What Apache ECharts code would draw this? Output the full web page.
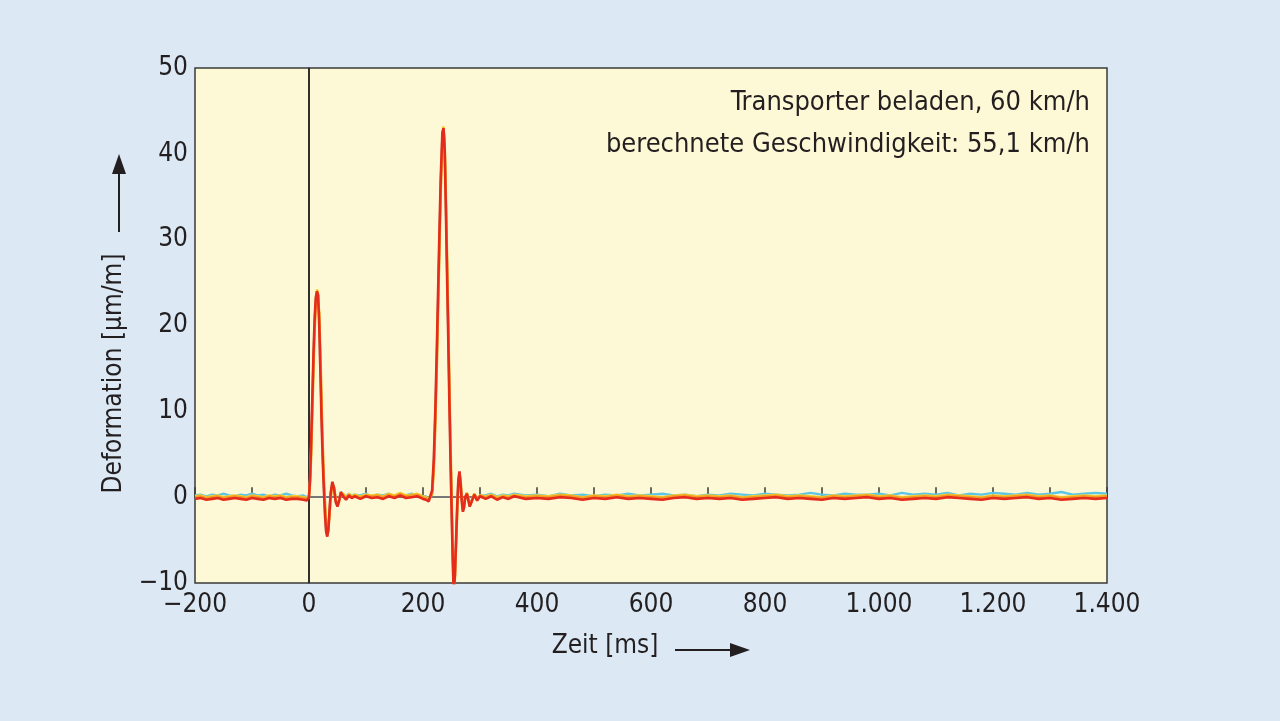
<!DOCTYPE html>
<html>
<head>
<meta charset="utf-8">
<script src="https://cdn.jsdelivr.net/npm/echarts@6/dist/echarts.min.js"></script>
<style>
html,body{margin:0;padding:0;background:#dce9f5;}
#chart{width:1280px;height:721px;}
</style>
</head>
<body>
<div id="chart"></div>
<script>
// ---- Data ----
const timeMs = [-200,-190,-180,-170,-160,-150,-140,-130,-120,-110,-100,-90,-80,-70,-60,-50,-40,-30,-20,-10,-4,0,
2,4,6,8,10,12,14,16,18,20,22,24,26,28,30,32,34,36,38,
41,44,47,50,53,56,
60,65,70,75,80,
90,100,110,120,130,140,150,160,170,180,190,200,
205,210,213,
216,219,222,225,228,231,234,
236,238,240,242,244,246,248,250,252,254,256,258,260,262,264,266,268,270,272,274,
277,280,282,285,290,295,300,
310,320,330,340,350,360,
380,400,420,440,460,480,500,520,540,560,580,600,620,640,660,680,700,720,740,760,780,800,820,840,860,880,900,920,940,960,980,1000,1020,1040,1060,1080,1100,1120,1140,1160,1180,1200,1220,1240,1260,1280,1300,1320,1340,1360,1380,1400];

const seriesCyan = [0.2,0.3,0.1,0.3,0.2,0.4,0.2,0.1,0.3,0.2,0.4,0.2,0.3,0.1,0.3,0.2,0.4,0.2,0.1,0.2,0.0,0.2,
2.2,6.5,11.5,16.5,20.5,23,24,23.6,20.5,15,10,5,1.5,-1.5,-3.8,-4.5,-3.9,-1.8,0.3,
1.7,1.0,-0.5,-1.0,-0.3,0.6,
0.3,0.1,0.4,0.2,0.3,
0.2,0.4,0.1,0.3,0.2,0.4,0.1,0.3,0.2,0.4,0.2,0.1,
0.1,-0.2,-0.3,
0.6,4,10.5,18.5,27.5,36,42.2,
43,40.8,34.5,27.5,20.5,13,6,-0.5,-6.5,-11,-9,-5.2,-1.2,1.8,2.9,1.6,-0.3,-1.6,-1.2,0,
0.4,-0.4,-1.0,-0.5,0.3,-0.3,0.2,
0.2,0.4,0.1,0.3,0.2,0.4,
0.2,0.3,0.1,0.4,0.2,0.3,0.1,0.3,0.2,0.4,
0.2,0.3,0.4,0.2,0.3,0.1,0.3,0.2,0.4,0.3,
0.2,0.4,0.3,0.2,0.3,0.5,0.3,0.2,0.4,0.3,
0.3,0.4,0.2,0.5,0.3,0.4,0.3,0.5,0.2,0.4,
0.3,0.5,0.4,0.3,0.5,0.3,0.4,0.6,0.3,0.4,
0.5,0.4];

const seriesYellow = [0.1,0.2,0.0,0.1,0.2,0.0,0.1,0.2,0.1,0.0,0.2,0.1,0.0,0.2,0.1,0.2,0.0,0.1,0.1,0.0,-0.1,0.2,
2,6,11,16,20,23,24.2,23.8,21,16,10.5,5.5,2,-1,-3.5,-4.3,-3.9,-2,0,
1.6,1.1,-0.4,-1.0,-0.4,0.5,
0.4,0.0,0.4,0.1,0.3,
0.1,0.3,0.2,0.3,0.1,0.4,0.2,0.5,0.2,0.3,0.4,0.1,
0.0,-0.2,-0.2,
0.5,3.5,10,18,27,36,42,
43.2,41,35,28,21,13.5,6.5,0,-6,-10.5,-9.2,-5.5,-1.5,1.5,2.9,1.8,-0.2,-1.5,-1.2,-0.1,
0.5,-0.3,-1.0,-0.5,0.4,-0.3,0.2,
0.1,0.3,0.0,0.2,0.1,0.3,
0.1,0.2,0.1,0.3,0.2,0.0,0.2,0.1,0.3,0.1,
0.2,0.1,0.0,0.2,0.3,0.1,0.2,0.1,0.2,0.0,
0.1,0.2,0.3,0.1,0.2,0.1,0.0,0.2,0.1,0.2,
0.3,0.1,0.2,0.0,0.1,0.2,0.1,0.3,0.2,0.1,
0.0,0.2,0.1,0.2,0.3,0.1,0.2,0.0,0.1,0.2,
0.1,0.2];

const seriesOrange = [0.0,0.1,-0.1,0.0,0.1,-0.1,0.0,0.1,0.0,-0.1,0.1,0.0,-0.1,0.1,0.0,0.1,-0.1,0.0,0.0,-0.1,-0.2,0.1,
1.5,5,10,15,19.5,22.5,23.8,23.8,21.5,17,11.5,6.5,2.5,-0.5,-3,-4.2,-4.0,-2.2,-0.2,
1.5,1.2,-0.3,-1.0,-0.5,0.4,
0.3,-0.1,0.3,0.0,0.2,
0.0,0.2,0.1,0.2,0.0,0.3,0.1,0.4,0.1,0.2,0.3,0.0,
-0.1,-0.3,-0.3,
0.3,3,9,17,26,35,41.5,
43,41.5,36,29,22,14.5,7.5,1,-5,-10,-9.5,-6,-2,1.2,2.8,2.0,0,-1.4,-1.3,-0.2,
0.5,-0.2,-0.9,-0.5,0.4,-0.2,0.2,
0.0,0.2,-0.1,0.1,0.0,0.2,
0.0,0.1,0.0,0.2,0.1,-0.1,0.1,0.0,0.2,0.0,
0.1,0.0,-0.1,0.1,0.2,0.0,0.1,0.0,0.1,-0.1,
0.0,0.1,0.2,0.0,0.1,0.0,-0.1,0.1,0.0,0.1,
0.2,0.0,0.1,-0.1,0.0,0.1,0.0,0.2,0.1,0.0,
-0.1,0.1,0.0,0.1,0.2,0.0,0.1,-0.1,0.0,0.1,
0.0,0.1];

const seriesRed = [-0.2,-0.1,-0.3,-0.2,-0.1,-0.3,-0.2,-0.1,-0.2,-0.3,-0.1,-0.2,-0.3,-0.1,-0.2,-0.1,-0.3,-0.2,-0.2,-0.3,-0.4,0.0,
2.5,7,12,17,21,23.3,24,23.5,20,14.5,9,4.5,1,-2,-4,-4.6,-3.8,-1.5,0.5,
1.8,1.0,-0.6,-1.1,-0.3,0.6,
0.1,-0.3,0.2,-0.1,0.1,
-0.2,0.1,-0.1,0.0,-0.2,0.1,-0.1,0.2,-0.1,0.0,0.1,-0.2,
-0.3,-0.5,-0.4,
0.8,4.5,11,19.5,28.5,37,42.5,
43,40.5,34,26.5,19.5,12,5,-1,-7,-11.5,-9,-5,-1,2,3.0,1.5,-0.5,-1.7,-1.2,0,
0.4,-0.5,-1.1,-0.6,0.3,-0.4,0.1,
-0.2,0.1,-0.3,0.0,-0.2,0.1,
-0.2,-0.1,-0.2,0.0,-0.1,-0.3,-0.1,-0.2,0.0,-0.2,
-0.1,-0.2,-0.3,-0.1,0.0,-0.2,-0.1,-0.2,-0.1,-0.3,
-0.2,-0.1,0.0,-0.2,-0.1,-0.2,-0.3,-0.1,-0.2,-0.1,
0.0,-0.2,-0.1,-0.3,-0.2,-0.1,-0.2,0.0,-0.1,-0.2,
-0.3,-0.1,-0.2,-0.1,0.0,-0.2,-0.1,-0.3,-0.2,-0.1,
-0.2,-0.1];

const xTickValues = [-200, 0, 200, 400, 600, 800, 1000, 1200, 1400];
const yTickValues = [-10, 0, 10, 20, 30, 40, 50];
const annotationLines = ['Transporter beladen, 60 km/h', 'berechnete Geschwindigkeit: 55,1 km/h'];
const xTitle = 'Zeit [ms]';
const yTitle = 'Deformation [µm/m]';

// ---- Chart ----
const FONT = '"Liberation Sans Narrow", "DejaVu Sans Condensed", "Noto Sans", sans-serif';
const TXT = '#231f20';

function pair(vals) { return timeMs.map((t, i) => [t, vals[i]]); }
function fmtNum(v) {
  const a = Math.abs(v);
  let s = a >= 1000 ? Math.floor(a / 1000) + '.' + String(a % 1000).padStart(3, '0') : String(a);
  return (v < 0 ? '\u2212' : '') + s;
}

const chart = echarts.init(document.getElementById('chart'), null, {renderer: 'canvas'});

const lineSeries = (name, vals, color, width) => ({
  name, type: 'line', data: pair(vals), showSymbol: false, symbol: 'none',
  lineStyle: {color, width}, itemStyle: {color}, animation: false, smooth: false, z: 3
});

const option = {
  backgroundColor: '#dce9f5',
  animation: false,
  textStyle: {fontFamily: FONT},
  grid: {left: 195, right: 173, top: 68, bottom: 138, show: true, backgroundColor: '#fdf8d6', borderColor: '#3a3a3a', borderWidth: 1.5},
  xAxis: {
    type: 'value', min: -200, max: 1400, interval: 100,
    name: xTitle, nameLocation: 'middle', nameGap: 50,
    nameTextStyle: {fontFamily: FONT, fontSize: 26, color: TXT, padding: [0, 92, 0, 0]},
    axisLine: {show: true, lineStyle: {color: '#3a3a3a', width: 1.5}},
    axisTick: {show: true, inside: true, length: 10, lineStyle: {color: '#3a3a3a', width: 1.5}},
    splitLine: {show: false},
    axisLabel: {
      margin: 9, fontFamily: FONT, fontSize: 26, color: TXT,
      formatter: v => xTickValues.includes(v) ? fmtNum(v) : ''
    }
  },
  yAxis: {
    type: 'value', min: -10, max: 50, interval: 10,
    name: yTitle, nameLocation: 'middle', nameRotate: 90, nameGap: 40,
    nameTextStyle: {fontFamily: FONT, fontSize: 26, color: TXT, padding: [0, 96, 0, 0]},
    axisLine: {show: true, lineStyle: {color: '#3a3a3a', width: 1.5}},
    axisTick: {show: false},
    splitLine: {show: false},
    axisLabel: {
      margin: 7, fontFamily: FONT, fontSize: 26, color: TXT,
      formatter: v => yTickValues.includes(v) ? fmtNum(v) : ''
    }
  },
  series: [
    Object.assign(lineSeries('Sensor 4', seriesCyan, '#5cc6e6', 2.4), {
      markLine: {
        silent: true, symbol: 'none', z: 1, animation: false,
        label: {show: false},
        data: [
          {xAxis: 0, lineStyle: {color: '#2a2a2a', width: 1.8, type: 'solid'}},
          {yAxis: 0, lineStyle: {color: '#777777', width: 1.8, type: 'solid'}}
        ]
      }
    }),
    lineSeries('Sensor 3', seriesYellow, '#f4d232', 2.4),
    lineSeries('Sensor 2', seriesOrange, '#f39b24', 2.4),
    lineSeries('Sensor 1', seriesRed, '#e52b1c', 2.6)
  ],
  graphic: [
    {
      type: 'text', right: 190, top: 89, silent: true,
      style: {text: annotationLines[0], font: '27px ' + FONT, fill: TXT}
    },
    {
      type: 'text', right: 190, top: 131, silent: true,
      style: {text: annotationLines[1], font: '27px ' + FONT, fill: TXT}
    },
    // arrow for y axis title
    {type: 'line', shape: {x1: 119, y1: 232, x2: 119, y2: 168}, style: {stroke: TXT, lineWidth: 2}, silent: true},
    {type: 'polygon', shape: {points: [[112, 174], [126, 174], [119, 154]]}, style: {fill: TXT}, silent: true},
    // arrow for x axis title
    {type: 'line', shape: {x1: 675, y1: 650, x2: 736, y2: 650}, style: {stroke: TXT, lineWidth: 2}, silent: true},
    {type: 'polygon', shape: {points: [[730, 643], [730, 657], [750, 650]]}, style: {fill: TXT}, silent: true}
  ]
};

chart.setOption(option);
</script>
</body>
</html>
